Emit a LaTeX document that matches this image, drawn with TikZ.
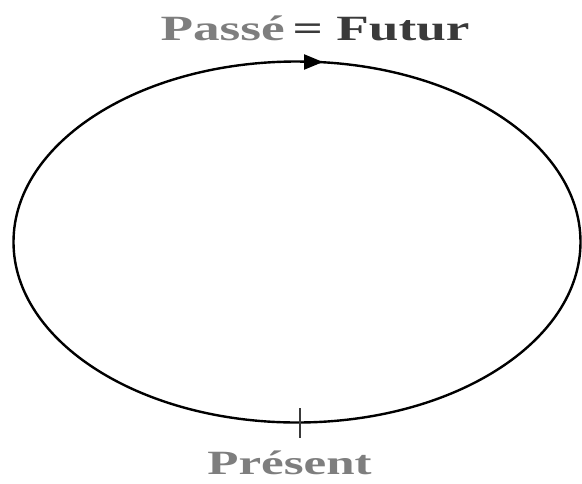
\documentclass[tikz,border=0pt]{standalone}
\usepackage{fontspec}
\setmainfont{Liberation Serif}
\usetikzlibrary{arrows.meta,shapes.geometric}
\definecolor{lightgr}{HTML}{7E7E7E}
\definecolor{darkgr}{HTML}{3A3A3A}
\tikzset{
  curve/.style={line width=2.4pt, draw=black},
  lbl/.style={anchor=base, inner sep=0pt, font=\bfseries},
}
\begin{document}
\begin{tikzpicture}[x=1pt,y=-1pt]
\useasboundingbox (0,0) rectangle (582,483);
\node[curve, ellipse, minimum width=567pt, minimum height=361pt, inner sep=0pt] (cycle) at (297,242) {};
\coordinate (arrA) at (300,62);
\coordinate (arrB) at (323,62);
\draw[curve, -{Triangle[length=19pt,width=15pt]}] (arrA) -- (arrB);
\coordinate (tickT) at (300,408);
\coordinate (tickB) at (300,438);
\draw[line width=2.2pt, draw=darkgr] (tickT) -- (tickB);
\node[lbl] (title) at (315,40) {\scalebox{1.5}[1]{\fontsize{35.5pt}{40pt}\selectfont\textcolor{lightgr}{Passé}\hspace{0.15em}\textcolor{darkgr}{= Futur}}};
\node[lbl] (present) at (289.5,474) {\scalebox{1.5}[1]{\fontsize{34pt}{40pt}\selectfont\textcolor{lightgr}{Présent}}};
\end{tikzpicture}
\end{document}
